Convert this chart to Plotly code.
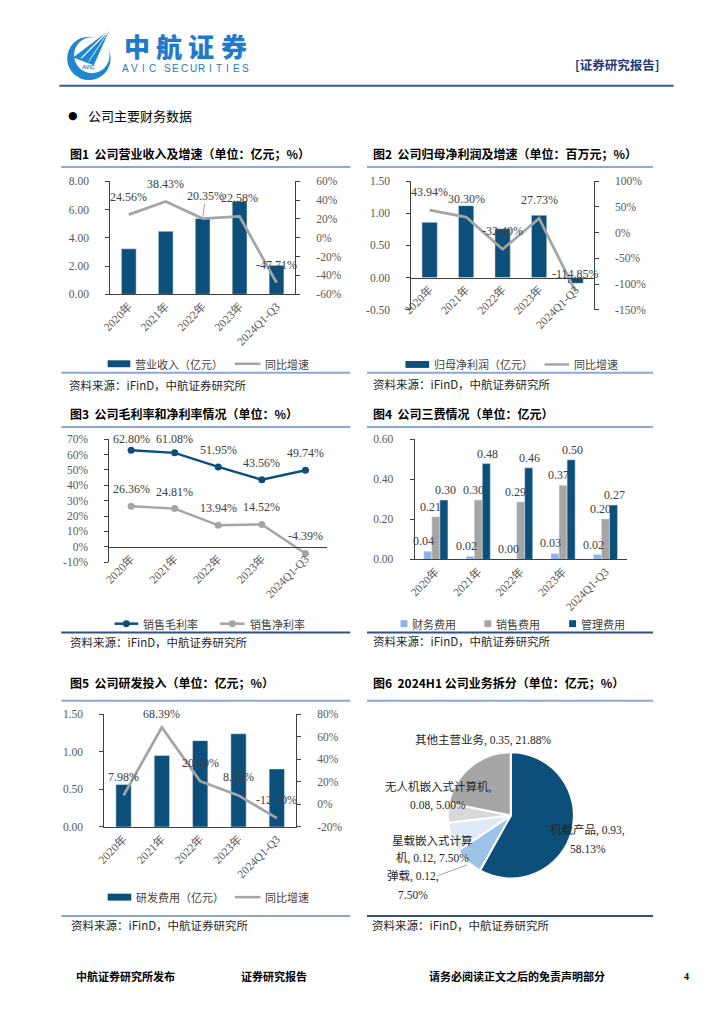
import plotly.graph_objects as go

# ---------------- data ----------------
years = ["2020年", "2021年", "2022年", "2023年", "2024Q1-Q3"]

revenue = [3.22, 4.46, 5.37, 6.58, 2.05]
revenue_growth = [24.56, 38.43, 20.35, 22.58, -47.71]

net_profit = [0.86, 1.12, 0.76, 0.97, -0.09]
net_profit_growth = [43.94, 30.30, -32.40, 27.73, -114.85]

gross_margin = [62.80, 61.08, 51.95, 43.56, 49.74]
net_margin = [26.36, 24.81, 13.94, 14.52, -4.39]

fin_exp = [0.041, 0.016, 0.002, 0.030, 0.024]
sales_exp = [0.213, 0.296, 0.287, 0.370, 0.202]
admin_exp = [0.296, 0.478, 0.457, 0.497, 0.271]

rd_exp = [0.566, 0.953, 1.149, 1.241, 0.772]
rd_growth = [7.98, 68.39, 20.59, 8.02, -12.20]

seg_names = ["机载产品", "弹载", "星载嵌入式计算机", "无人机嵌入式计算机", "其他主营业务"]
seg_values = [0.93, 0.12, 0.12, 0.08, 0.35]
seg_pct = [58.13, 7.50, 7.50, 5.00, 21.88]

rev_ticks = [0, 2, 4, 6, 8]
rev_g_ticks = [-60, -40, -20, 0, 20, 40, 60]
np_ticks = [-0.5, 0, 0.5, 1.0, 1.5]
np_g_ticks = [-150, -100, -50, 0, 50, 100]
margin_ticks = [-10, 0, 10, 20, 30, 40, 50, 60, 70]
exp_ticks = [0, 0.2, 0.4, 0.6]
rd_ticks = [0, 0.5, 1.0, 1.5]
rd_g_ticks = [-20, 0, 20, 40, 60, 80]

# ---------------- style ----------------
W, H = 724, 1024
def px(x): return x / W
def py(y): return 1 - y / H

SERIF = "Liberation Serif, Noto Sans CJK SC, serif"
CJK = "Noto Sans CJK SC, Liberation Serif, sans-serif"
DARK = "#0D4F7B"
GRAY = "#A5A5A5"
LBLUE = "#8DB4E2"
AX = "#404040"
TICK = "#595959"
LBL = "#404040"
RULE = "#8DA9CF"
RULE_D = "#2F5283"

fig = go.Figure()

# Chart 1
fig.add_trace(go.Bar(x=years, y=revenue, xaxis="x", yaxis="y", marker_color=DARK, width=0.4))
fig.add_trace(go.Scatter(x=years, y=revenue_growth, xaxis="x", yaxis="y2", mode="lines",
                         line=dict(color=GRAY, width=2.75)))
# Chart 2
fig.add_trace(go.Bar(x=years, y=net_profit, xaxis="x2", yaxis="y3", marker_color=DARK, width=0.42))
fig.add_trace(go.Scatter(x=years, y=net_profit_growth, xaxis="x2", yaxis="y4", mode="lines",
                         line=dict(color=GRAY, width=2.75)))
# Chart 3
fig.add_trace(go.Scatter(x=years, y=gross_margin, xaxis="x3", yaxis="y5", mode="lines+markers",
                         line=dict(color=DARK, width=2.5), marker=dict(size=7, color=DARK)))
fig.add_trace(go.Scatter(x=years, y=net_margin, xaxis="x3", yaxis="y5", mode="lines+markers",
                         line=dict(color=GRAY, width=2.5), marker=dict(size=7, color=GRAY)))
# Chart 4
exp_series = [(fin_exp, LBLUE, -0.285, -4), (sales_exp, GRAY, -0.095, -5), (admin_exp, DARK, 0.095, 1)]
for series, col, off, _ in exp_series:
    fig.add_trace(go.Bar(x=years, y=series, xaxis="x4", yaxis="y6", marker_color=col,
                         width=0.19, offset=off))
# Chart 5
fig.add_trace(go.Bar(x=years, y=rd_exp, xaxis="x5", yaxis="y7", marker_color=DARK, width=0.4))
fig.add_trace(go.Scatter(x=years, y=rd_growth, xaxis="x5", yaxis="y8", mode="lines",
                         line=dict(color=GRAY, width=2.75)))
# Chart 6
pie_cx, pie_cy, pie_r = 507.8, 819, 64
fig.add_trace(go.Pie(labels=seg_names, values=seg_values, sort=False, direction="clockwise",
                     rotation=0, textinfo="none", hoverinfo="label+value+percent",
                     marker=dict(colors=[DARK, "#9DC3E6", "#DEEBF7", "#D9D9D9", "#A6A6A6"],
                                 line=dict(color="white", width=2)),
                     domain=dict(x=[px(pie_cx - pie_r), px(pie_cx + pie_r)],
                                 y=[py(pie_cy + pie_r), py(pie_cy - pie_r)])))

tickfont = dict(family=SERIF, size=11.5, color=TICK)

def xax(x0, x1, **kw):
    d = dict(domain=[px(x0), px(x1)], type="category", range=[-0.5, 4.5], showline=True,
             linecolor=AX, linewidth=1, ticks="", tickangle=-45, tickfont=tickfont,
             showgrid=False, zeroline=False, fixedrange=True)
    d.update(kw)
    return d

def yax(rng, vals, texts, y0=None, y1=None, **kw):
    d = dict(range=rng, tickvals=vals, ticktext=texts, showline=True, linecolor=AX, linewidth=1,
             ticks="outside", ticklen=4, tickcolor=AX, tickfont=tickfont, showgrid=False,
             zeroline=False, fixedrange=True, ticklabelstandoff=14)
    if y0 is not None:
        d["domain"] = [py(y0), py(y1)]
    d.update(kw)
    return d

def fmt2(v): return f"{v:.2f}"
def pct(v): return f"{v:.0f}%"

# plot-area pixel geometry
C1 = dict(x0=101.7, x1=289, top=177.3, bot=291.7)
C2 = dict(x0=407, x1=592, top=177.3, bot=307.3)
C3 = dict(x0=100.7, x1=321.7, top=438.3, bot=562.7)
C4 = dict(x0=410.3, x1=625.3, top=438.3, bot=560)
C5 = dict(x0=95.7, x1=290, top=716.7, bot=830.7)

zero2 = C2["bot"] - (C2["bot"] - C2["top"]) * (0 - np_ticks[0]) / (np_ticks[-1] - np_ticks[0])
zero3 = C3["bot"] - (C3["bot"] - C3["top"]) * (0 - margin_ticks[0]) / (margin_ticks[-1] - margin_ticks[0])

fig.update_layout(
    width=W, height=H, margin=dict(l=0, r=0, t=0, b=0),
    paper_bgcolor="white", plot_bgcolor="rgba(0,0,0,0)", showlegend=False,
    font=dict(family=SERIF, color=LBL),
    xaxis=xax(C1["x0"], C1["x1"], anchor="y"),
    yaxis=yax([0, 8], rev_ticks, [fmt2(v) for v in rev_ticks], C1["bot"], C1["top"], anchor="x"),
    yaxis2=yax([-60, 60], rev_g_ticks, [pct(v) for v in rev_g_ticks], overlaying="y", side="right", anchor="x"),
    xaxis2=xax(C2["x0"], C2["x1"], anchor="free", position=py(zero2)),
    yaxis3=yax([-0.5, 1.5], np_ticks, [fmt2(v) for v in np_ticks], C2["bot"], C2["top"], anchor="x2"),
    yaxis4=yax([-150, 100], np_g_ticks, [pct(v) for v in np_g_ticks], overlaying="y3", side="right", anchor="x2"),
    xaxis3=xax(C3["x0"], C3["x1"], anchor="free", position=py(zero3)),
    yaxis5=yax([-10, 70], margin_ticks, [pct(v) for v in margin_ticks], C3["bot"], C3["top"], anchor="x3"),
    xaxis4=xax(C4["x0"], C4["x1"], anchor="y6"),
    yaxis6=yax([0, 0.6], exp_ticks, [fmt2(v) for v in exp_ticks], C4["bot"], C4["top"], anchor="x4"),
    xaxis5=xax(C5["x0"], C5["x1"], anchor="y7"),
    yaxis7=yax([0, 1.5], rd_ticks, [fmt2(v) for v in rd_ticks], C5["bot"], C5["top"], anchor="x5"),
    yaxis8=yax([-20, 80], rd_g_ticks, [pct(v) for v in rd_g_ticks], overlaying="y7", side="right", anchor="x5"),
)

ann = []
shapes = []

def text(x, y, s, size=12, color="#000", family=CJK, anchor="left", bold=False, weight=None, yanchor="middle"):
    w = weight if weight is not None else ("bold" if bold else "normal")
    ann.append(dict(x=px(x), y=py(y), xref="paper", yref="paper", text=s, showarrow=False,
                    xanchor=anchor, yanchor=yanchor, font=dict(family=family, size=size, color=color, weight=w)))

def hline(x0, x1, y, color, width=2):
    shapes.append(dict(type="line", xref="paper", yref="paper", x0=px(x0), x1=px(x1), y0=py(y), y1=py(y),
                       line=dict(color=color, width=width)))

def point_labels(xs, ys, xref, yref, ymax, top_px, bot_px, ymin, shift=18, skip=()):
    ppu = (bot_px - top_px) / (ymax - ymin)
    for i, (xv, yv) in enumerate(zip(xs, ys)):
        if i in skip:
            continue
        if yv + shift / ppu > ymax:
            yy, sh = ymax, 0
        else:
            yy, sh = yv, shift
        ann.append(dict(x=xv, y=yy, xref=xref, yref=yref, text=f"{yv:.2f}%", showarrow=False,
                        yshift=sh, font=dict(family=SERIF, size=12, color=LBL)))

# ---------------- header ----------------
LOGO = "#1F86D0"
shapes.append(dict(type="circle", xref="paper", yref="paper", x0=px(58), x1=px(102), y0=py(75), y1=py(31),
                   fillcolor=LOGO, line=dict(width=0)))
shapes.append(dict(type="circle", xref="paper", yref="paper", x0=px(65), x1=px(101), y0=py(68), y1=py(31.5),
                   fillcolor="white", line=dict(width=0)))
shapes.append(dict(type="path", xref="paper", yref="paper",
                   path=f"M{px(64)},{py(52)} L{px(101)},{py(24)} L{px(85)},{py(60)} Z",
                   fillcolor=LOGO, line=dict(width=0)))
shapes.append(dict(type="line", xref="paper", yref="paper", x0=px(101), y0=py(24), x1=px(72), y1=py(53),
                   line=dict(color="white", width=1.2)))
shapes.append(dict(type="line", xref="paper", yref="paper", x0=px(101), y0=py(24), x1=px(80), y1=py(56),
                   line=dict(color="white", width=0.8)))
text(80, 62, "AVIC", size=5.5, color=LOGO, family="Liberation Sans", anchor="center", bold=True)
for i, ch in enumerate("中航证券"):
    text(112 + 16.4 + 32.75 * i, 39.5, ch, size=26, color="#1E7ACB", anchor="center", weight=900)
for i, ch in enumerate("AVIC"):
    text(113 + 4.4 + 8.9 * i, 63, ch, size=10, color="#1E7ACB", family="Liberation Sans", anchor="center")
for i, ch in enumerate("SECURITIES"):
    text(155 + 4.4 + 8.8 * i, 63, ch, size=10, color="#1E7ACB", family="Liberation Sans", anchor="center")
text(571, 59, "[证券研究报告]", size=12.5, color="#1F3A7A", bold=True)
hline(50, 673, 80.7, "#2A5CA8", 2)
text(57, 111, "●", size=11, color="#000", family="DejaVu Sans")
text(77, 111, "公司主要财务数据", size=13, color="#000")

# ---------------- titles / rules / sources ----------------
titles = [
    (59, 149, "图1  公司营业收入及增速（单位：亿元；%）"),
    (366, 149, "图2  公司归母净利润及增速（单位：百万元；%）"),
    (59, 412, "图3  公司毛利率和净利率情况（单位：%）"),
    (366, 412, "图4  公司三费情况（单位：亿元）"),
    (59, 685, "图5  公司研发投入（单位：亿元；%）"),
    (366, 685, "图6  2024H1 公司业务拆分（单位：亿元；%）"),
]
for x, y, s in titles:
    text(x, y, s, size=12, color="#000", bold=True)

hline(52, 345, 163, RULE); hline(362, 652, 163, RULE)
hline(52, 345, 371, RULE); hline(362, 652, 371, RULE)
hline(52, 345, 426, RULE); hline(362, 652, 426, RULE)
hline(52, 345, 634, RULE_D); hline(362, 652, 634, RULE_D)
hline(52, 345, 703, RULE); hline(362, 652, 703, RULE)
hline(52, 345, 920.7, RULE); hline(362, 652, 920.7, RULE_D)

src = "资料来源：iFinD，中航证券研究所"
for x, y in [(58, 383), (366, 382), (59, 644), (366, 643), (60, 930), (365, 930)]:
    text(x, y, src, size=11.5, color="#262626")

# ---------------- legends (manual) ----------------
def leg_bar(x0, x1, y, color, label, h=7):
    shapes.append(dict(type="rect", xref="paper", yref="paper", x0=px(x0), x1=px(x1), y0=py(y + h / 2),
                       y1=py(y - h / 2), fillcolor=color, line=dict(width=0)))
    text(x1 + 3, y, label, size=11, color=LBL)

def leg_line(x0, x1, y, color, label, marker=False):
    shapes.append(dict(type="line", xref="paper", yref="paper", x0=px(x0), x1=px(x1), y0=py(y), y1=py(y),
                       line=dict(color=color, width=2.5)))
    if marker:
        xc = (x0 + x1) / 2
        shapes.append(dict(type="circle", xref="paper", yref="paper", x0=px(xc - 3.5), x1=px(xc + 3.5),
                           y0=py(y + 3.5), y1=py(y - 3.5), fillcolor=color, line=dict(width=0)))
    text(x1 + 3, y, label, size=11, color=LBL)

leg_bar(99, 122, 362, DARK, "营业收入（亿元）"); leg_line(228, 254, 362, GRAY, "同比增速")
leg_bar(401, 425, 362.7, DARK, "归母净利润（亿元）"); leg_line(542, 567, 362.7, GRAY, "同比增速")
leg_line(106, 130, 625, DARK, "销售毛利率", True); leg_line(213, 238, 625, GRAY, "销售净利率", True)
leg_bar(396, 403, 625, LBLUE, "财务费用", 7); leg_bar(481, 488, 625, GRAY, "销售费用", 7)
leg_bar(567, 574, 625, DARK, "管理费用", 7)
leg_bar(99, 123, 901.7, DARK, "研发费用（亿元）"); leg_line(228, 254, 901.7, GRAY, "同比增速")

# ---------------- data labels ----------------
point_labels(years, revenue_growth, "x", "y2", 60, C1["top"], C1["bot"], -60, skip=(2,))
ann.append(dict(x=years[2], y=revenue_growth[2], xref="x", yref="y2", text=f"{revenue_growth[2]:.2f}%",
                showarrow=True, arrowhead=0, arrowwidth=1, arrowcolor=GRAY, ax=3, ay=-23, standoff=2,
                font=dict(family=SERIF, size=12, color=LBL)))
point_labels(years, net_profit_growth, "x2", "y4", 100, C2["top"], C2["bot"], -150)
point_labels(years, gross_margin, "x3", "y5", 70, C3["top"], C3["bot"], -10, shift=17)
point_labels(years, net_margin, "x3", "y5", 70, C3["top"], C3["bot"], -10, shift=17)
point_labels(years, rd_growth, "x5", "y8", 80, C5["top"], C5["bot"], -20)

# chart 4 bar value labels (drawn above all bars)
cat_px = (C4["x1"] - C4["x0"]) / len(years)
for series, col, off, nudge in exp_series:
    xs = (off + 0.095) * cat_px + nudge
    for xv, yv in zip(years, series):
        ann.append(dict(x=xv, y=yv, xref="x4", yref="y6", text=f"{yv:.2f}", showarrow=False,
                        xshift=xs, yshift=1, yanchor="bottom",
                        font=dict(family=SERIF, size=12, color=LBL)))

# pie labels
pie_label_pos = [(586, 834), (408.7, 880.7), (428.7, 844), (433.7, 790), (480, 742.7)]
pie_breaks = [11, 9, 7, 10, None]
for name, v, p, (lx, ly), br in zip(seg_names, seg_values, seg_pct, pie_label_pos, pie_breaks):
    full = f"{name}, {v:.2f}, {p:.2f}%"
    lines = [full] if br is None else [full[:br], full[br:].strip()]
    for k, ln in enumerate(lines):
        text(lx, ly + 18.6 * k, ln, size=11.5, color="#262626", family=SERIF, anchor="center")
shapes.append(dict(type="line", xref="paper", yref="paper", x0=px(433.7), y0=py(880), x1=px(463.7), y1=py(869),
                   line=dict(color=GRAY, width=1)))

# ---------------- footer ----------------
text(65, 981, "中航证券研究所发布", size=11, color="#000", bold=True)
text(232, 981, "证券研究报告", size=11, color="#000", bold=True)
text(423, 981, "请务必阅读正文之后的免责声明部分", size=11, color="#000", bold=True)
text(686, 982, "4", size=10, color="#000", family=SERIF, anchor="center", bold=True)

fig.update_layout(annotations=ann, shapes=shapes)
fig.write_html("out.html", config={"displayModeBar": False},
               post_script="document.body.style.margin='0px';")
